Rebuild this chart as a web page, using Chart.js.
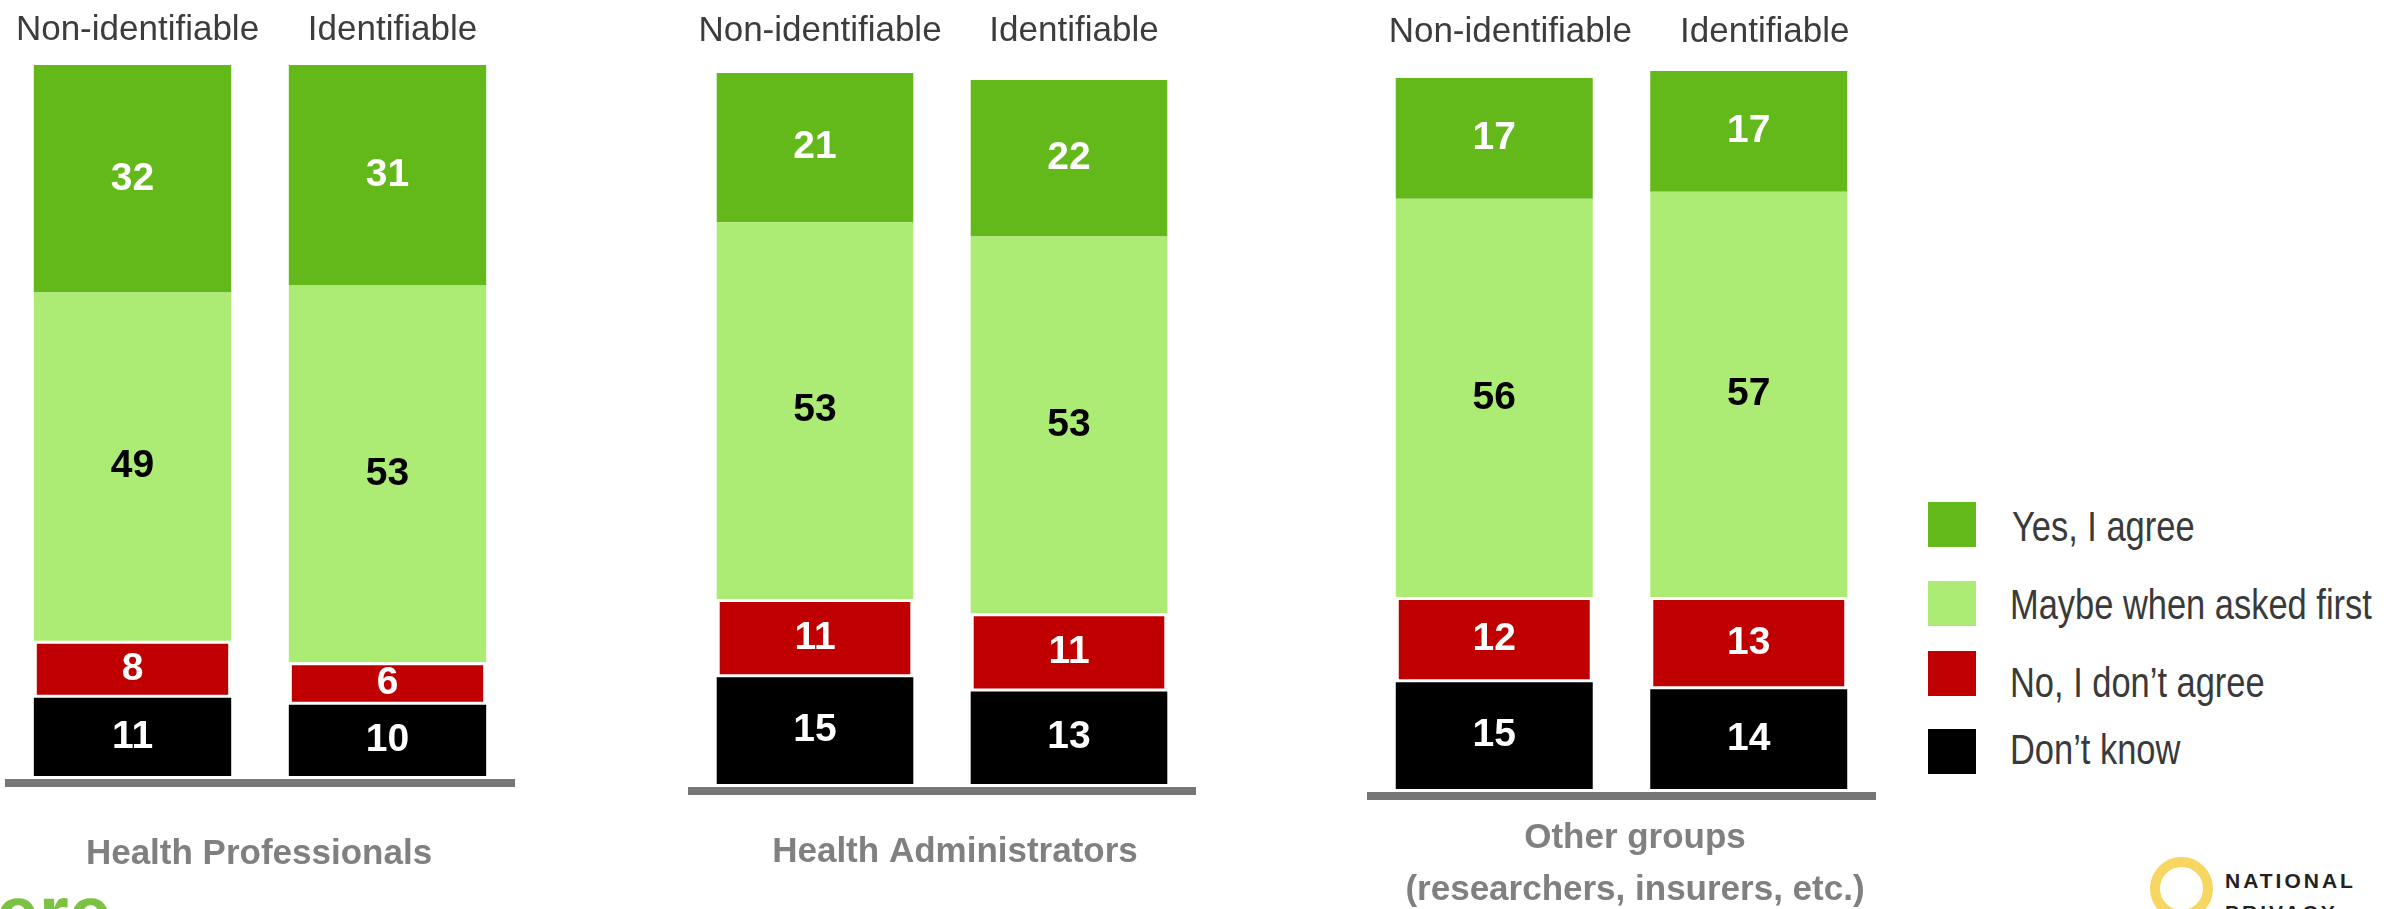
<!DOCTYPE html>
<html lang="en">
<head>
<meta charset="UTF-8">
<title>Agreement to share health data</title>
<script src="https://cdn.jsdelivr.net/npm/chart.js"></script>
<style>
  body {
    margin: 0;
    width: 2399px;
    height: 909px;
    overflow: hidden;
    position: relative;
    background: #fff;
    font-family: "Liberation Sans", Arial, sans-serif;
  }
  .panel { position: absolute; top: 0; }
  .key { position: absolute; left: 1928px; width: 48px; height: 45px; }
  .key-text {
    position: absolute;
    left: 2010px;
    font-size: 42px;
    line-height: 42px;
    color: #3a3a3a;
    white-space: nowrap;
    transform-origin: left center;
  }
  .squeeze { transform: scaleX(0.82); }
  #ring {
    position: absolute; left: 2150px; top: 857px;
    width: 63px; height: 63px; box-sizing: border-box;
    border: 10px solid #f8d662; border-radius: 50%;
  }
  #npc {
    position: absolute; left: 2225px; top: 865px;
    font-weight: bold; font-size: 21px; line-height: 32px;
    letter-spacing: 3px; color: #222;
  }
  #leftLogo {
    position: absolute; left: -4px; top: 875px;
    font-weight: bold; font-size: 77px; line-height: 77px;
    color: #7cc242;
  }
</style>
</head>
<body>
  <canvas id="p1" class="panel"></canvas>
  <canvas id="p2" class="panel"></canvas>
  <canvas id="p3" class="panel"></canvas>
  <div id="legend"></div>
  <div id="ring"></div>
  <div id="npc">NATIONAL<br>PRIVACY</div>
  <div id="leftLogo">ere</div>

<script>
  // chart data (percent), one pair per group: [Non-identifiable, Identifiable]
  const categories = ['Non-identifiable', 'Identifiable'];
  const groupTitles = ['Health Professionals', 'Health Administrators',
                       ['Other groups', '(researchers, insurers, etc.)']];
  const seriesNames = ['Yes, I agree', 'Maybe when asked first', 'No, I don\u2019t agree', 'Don\u2019t know'];

  const yesAgree   = [[32, 31], [21, 22], [17, 17]];
  const maybeAsked = [[49, 53], [53, 53], [56, 57]];
  const noAgree    = [[8, 6],   [11, 11], [12, 13]];
  const dontKnow   = [[11, 10], [15, 13], [15, 14]];

  const seriesColors = ['#63b91a', '#adec74', '#c00000', '#000000'];
  const labelColors  = ['#ffffff', '#000000', '#ffffff', '#ffffff'];

  // where each panel sits on the page
  const CANVAS_H = 909;
  const panelBoxes = [
    { id: 'p1', left: 5,    width: 510, top: 57.9, bottom: 783, shift: 5,  labelLine: 55, titleShift: -1,   titleGap: 81 },
    { id: 'p2', left: 688,  width: 508, top: 65.9, bottom: 791, shift: 5,  labelLine: 69, titleShift: 13,   titleGap: 71 },
    { id: 'p3', left: 1367, width: 509, top: 70.9, bottom: 796, shift: 16, labelLine: 77, titleShift: 13.5, titleGap: 52 }
  ];

  // Arial Narrow look-alike, if it is installed
  function fontAvailable(name) {
    const c = document.createElement('canvas').getContext('2d');
    const s = 'Maybe when asked first';
    c.font = '40px monospace';
    const w1 = c.measureText(s).width;
    c.font = '40px "' + name + '", monospace';
    return c.measureText(s).width !== w1;
  }
  const hasNarrow = fontAvailable('Liberation Sans Narrow');
  const narrowFamily = hasNarrow ? '"Liberation Sans Narrow", "Liberation Sans", sans-serif'
                                 : '"Liberation Sans", Arial, sans-serif';
  const narrowSize = hasNarrow ? 42 : 35;

  // numbers written inside each segment
  const valueLabels = {
    id: 'valueLabels',
    afterDatasetsDraw(chart) {
      const ctx = chart.ctx;
      ctx.save();
      ctx.font = 'bold 39px "Liberation Sans", Arial, sans-serif';
      ctx.textAlign = 'center';
      ctx.textBaseline = 'middle';
      chart.data.datasets.forEach((ds, i) => {
        chart.getDatasetMeta(i).data.forEach((bar, j) => {
          ctx.fillStyle = ds.labelColor;
          ctx.fillText(ds.data[j], bar.x, (bar.y + bar.base) / 2);
        });
      });
      ctx.restore();
    }
  };

  // group name under the base line
  const groupTitle = {
    id: 'groupTitle',
    afterDraw(chart, args, opts) {
      const {ctx, chartArea} = chart;
      const lines = [].concat(opts.text);
      ctx.save();
      ctx.font = 'bold ' + narrowSize + 'px ' + narrowFamily;
      ctx.fillStyle = '#808080';
      ctx.textAlign = 'center';
      ctx.textBaseline = 'alphabetic';
      const cx = (chartArea.left + chartArea.right) / 2 + opts.shift;
      lines.forEach((line, i) => {
        ctx.fillText(line, cx, chartArea.bottom + opts.gap + i * 52);
      });
      ctx.restore();
    }
  };

  function buildPanel(box, g) {
    const canvas = document.getElementById(box.id);
    canvas.width = box.width;
    canvas.height = CANVAS_H;
    canvas.style.left = box.left + 'px';

    // bottom-up stacking order
    const stack = [
      { name: seriesNames[3], values: dontKnow[g],   color: seriesColors[3], text: labelColors[3] },
      { name: seriesNames[2], values: noAgree[g],    color: seriesColors[2], text: labelColors[2] },
      { name: seriesNames[1], values: maybeAsked[g], color: seriesColors[1], text: labelColors[1] },
      { name: seriesNames[0], values: yesAgree[g],   color: seriesColors[0], text: labelColors[0] }
    ];

    new Chart(canvas, {
      type: 'bar',
      data: {
        labels: categories,
        datasets: stack.map(s => ({
          label: s.name,
          data: s.values,
          backgroundColor: s.color,
          borderColor: '#ffffff',
          borderWidth: s.color === seriesColors[2] ? 3 : 0,
          borderSkipped: false,
          barPercentage: 1,
          categoryPercentage: 0.774,
          labelColor: s.text
        }))
      },
      options: {
        responsive: false,
        animation: false,
        layout: { padding: 0 },
        plugins: {
          legend: { display: false },
          tooltip: { enabled: false },
          groupTitle: { text: groupTitles[g], shift: box.titleShift, gap: box.titleGap }
        },
        scales: {
          x: {
            stacked: true,
            offset: true,
            position: 'bottom',
            grid: { display: false, drawTicks: false },
            ticks: { display: false },
            border: { display: true, color: '#767676', width: 8 },
            afterFit(scale) { scale.height = CANVAS_H - box.bottom; }
          },
          xTop: {
            type: 'category',
            position: 'top',
            offset: true,
            grid: { display: false, drawTicks: false },
            border: { display: false },
            ticks: {
              color: '#3c3c3c',
              padding: 0,
              labelOffset: box.shift,
              maxRotation: 0,
              font: { family: narrowFamily, size: narrowSize, lineHeight: box.labelLine + 'px' }
            },
            afterFit(scale) { scale.height = box.top; }
          },
          y: {
            stacked: true,
            display: false,
            min: -1,
            max: 101
          }
        }
      },
      plugins: [valueLabels, groupTitle]
    });
  }

  panelBoxes.forEach((box, g) => buildPanel(box, g));

  // legend on the right
  const legend = document.getElementById('legend');
  const keyTops = [502, 581, 651, 729];
  const textTops = [505.5, 583.5, 661.5, 728.5];
  seriesNames.forEach((name, i) => {
    const sq = document.createElement('div');
    sq.className = 'key';
    sq.style.top = keyTops[i] + 'px';
    sq.style.background = seriesColors[i];
    legend.appendChild(sq);

    const t = document.createElement('div');
    t.className = 'key-text';
    t.textContent = name;
    t.style.top = textTops[i] + 'px';
    t.style.fontFamily = narrowFamily;
    if (i === 0) t.style.left = '2012px';
    if (!hasNarrow) t.classList.add('squeeze');
    legend.appendChild(t);
  });
</script>
</body>
</html>
